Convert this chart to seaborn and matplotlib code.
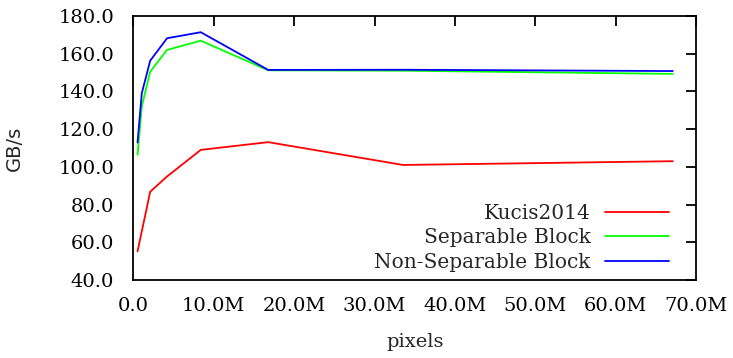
import matplotlib
matplotlib.use('Agg')
import matplotlib.pyplot as plt
import seaborn as sns
import pandas as pd
from matplotlib.ticker import FuncFormatter, MultipleLocator

# image sizes in megapixels (1024x512 ... 8192x8192)
pixels = [0.524, 1.049, 2.097, 4.194, 8.389, 16.777, 33.554, 67.109]
kucis = [55.2, None, 86.8, 94.9, 109.0, 113.1, 101.0, 103.0]
separable = [106.4, 132.0, 150.5, 162.0, 166.9, 151.2, 151.0, 149.3]
non_separable = [112.9, 139.0, 156.3, 168.2, 171.4, 151.4, 151.5, 150.8]

rows = []
for name, vals in [('Kucis2014', kucis), ('Separable Block', separable),
                   ('Non-Separable Block', non_separable)]:
    for x, y in zip(pixels, vals):
        if y is not None:
            rows.append((name, x, y))
df = pd.DataFrame(rows, columns=['method', 'pixels', 'gbs'])

sns.set_style('white')
plt.rcParams['font.family'] = ['DejaVu Serif']

fig = plt.figure(figsize=(7.33, 3.58), dpi=100)
ax = fig.add_axes([0.1819, 0.2179, 0.7677, 0.7374])
sns.lineplot(data=df, x='pixels', y='gbs', hue='method', sort=False,
             palette={'Kucis2014': '#ff0000', 'Separable Block': '#00ff00',
                      'Non-Separable Block': '#0000ff'},
             linewidth=1.3, ax=ax)

ax.set_xlim(0, 70)
ax.set_ylim(40, 180)
ax.xaxis.set_major_locator(MultipleLocator(10))
ax.yaxis.set_major_locator(MultipleLocator(20))
ax.xaxis.set_major_formatter(FuncFormatter(lambda v, p: '0.0' if v == 0 else f'{v:.1f}M'))
ax.yaxis.set_major_formatter(FuncFormatter(lambda v, p: f'{v:.1f}'))
ax.tick_params(direction='in', length=7, width=1.3, top=True, right=True,
               labelsize=14, colors='black')
ax.tick_params(axis='y', pad=14)
ax.tick_params(axis='x', pad=12)
for s in ax.spines.values():
    s.set_linewidth(1.3)
    s.set_color('black')
ax.set_xlabel('pixels', fontsize=14)
ax.xaxis.set_label_coords(0.5, -0.2)
ax.set_ylabel('GB/s', fontsize=14, family='DejaVu Sans')
ax.yaxis.set_label_coords(-0.195, 0.5)

ax.legend(loc='lower right', frameon=False, markerfirst=False, fontsize=14.5,
          handlelength=3.2, handletextpad=0.7, labelspacing=0.28,
          borderaxespad=0, borderpad=0, bbox_to_anchor=(0.952, 0.03))

fig.savefig('out.png', dpi=100)
